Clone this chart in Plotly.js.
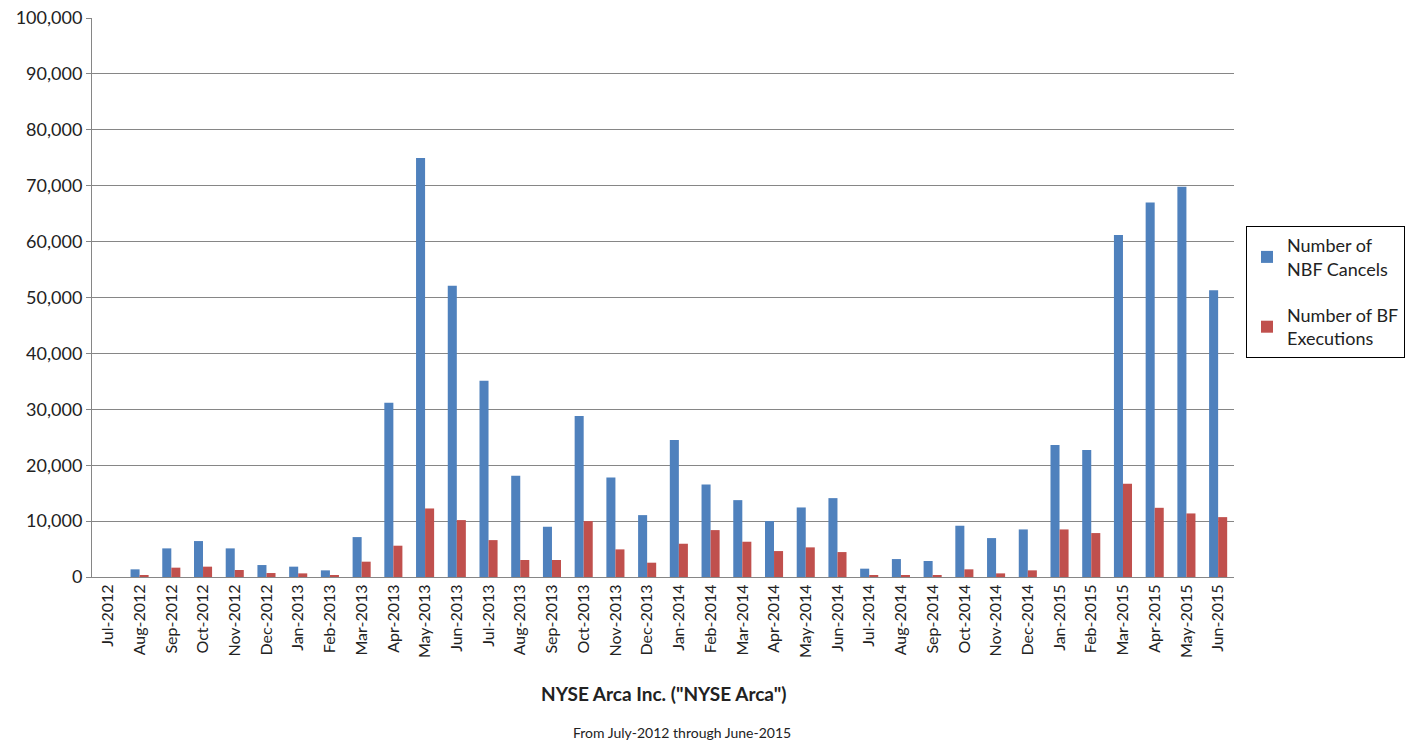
<!DOCTYPE html>
<html>
<head>
<meta charset="utf-8">
<script src="https://cdn.plot.ly/plotly-3.0.1.min.js"></script>
<style>html,body{margin:0;padding:0;background:#fff;}#chart{width:1414px;height:742px;}</style>
</head>
<body>
<div id="chart"></div>
<script>
const months = ["Jul-2012","Aug-2012","Sep-2012","Oct-2012","Nov-2012","Dec-2012","Jan-2013","Feb-2013","Mar-2013","Apr-2013","May-2013","Jun-2013","Jul-2013","Aug-2013","Sep-2013","Oct-2013","Nov-2013","Dec-2013","Jan-2014","Feb-2014","Mar-2014","Apr-2014","May-2014","Jun-2014","Jul-2014","Aug-2014","Sep-2014","Oct-2014","Nov-2014","Dec-2014","Jan-2015","Feb-2015","Mar-2015","Apr-2015","May-2015","Jun-2015"];
const nbfCancels = [0,1370,5120,6430,5120,2140,1850,1190,7140,31150,74950,52100,35100,18100,8990,28800,17800,11070,24500,16550,13750,10000,12440,14110,1490,3210,2860,9170,6960,8510,23600,22700,61200,67000,69800,51300];
const bfExecutions = [0,300,1670,1850,1250,710,650,360,2740,5600,12260,10180,6600,3040,3040,10000,4940,2560,5950,8390,6310,4640,5300,4460,180,300,300,1370,650,1190,8510,7860,16670,12380,11370,10710];
const seriesNames = ["Number of<br>NBF Cancels","Number of BF<br>Executions"];
const xTitle = 'NYSE Arca Inc. ("NYSE Arca")';
const subTitle = "From July-2012 through June-2015";

const font = "Lato, 'Open Sans', sans-serif";
const data = [
  {type:"bar", x:months, y:nbfCancels, name:seriesNames[0], legendgroup:"a", marker:{color:"#4F81BD"}},
  {type:"bar", x:months, y:bfExecutions, name:seriesNames[1], legendgroup:"b", marker:{color:"#C0504D"}}
];
const layout = {
  width:1414, height:742,
  margin:{l:92, r:180, t:18, b:165, autoexpand:false},
  paper_bgcolor:"#fff", plot_bgcolor:"#fff",
  font:{family:font, size:17, color:"#222"},
  barmode:"group", bargap:0.43, bargroupgap:0,
  showlegend:true,
  legend:{x:(1246-92)/1142, xanchor:"left", y:(577-226)/559, yanchor:"top", bordercolor:"#000", borderwidth:1,
          font:{family:font, size:18, color:"#222"}, traceorder:"grouped", tracegroupgap:20, itemwidth:30},
  xaxis:{type:"category", tickangle:-90, showline:true, linecolor:"#868686", linewidth:1,
         ticks:"", tickfont:{family:font, size:16, color:"#222"}, showgrid:false},
  yaxis:{range:[0,100000], dtick:10000, tickformat:",d", showgrid:true, gridcolor:"#868686", gridwidth:1,
         showline:true, linecolor:"#868686", zeroline:true, zerolinecolor:"#868686",
         ticks:"outside", ticklen:5, tickcolor:"#868686", tickfont:{family:font, size:18, color:"#222"}},
  annotations:[
    {text:"<b>"+xTitle+"</b>", xref:"paper", yref:"paper", x:0.5, y:(577-693)/559, xanchor:"center", yanchor:"middle",
     showarrow:false, font:{family:font, size:19, color:"#222"}},
    {text:subTitle, xref:"paper", yref:"paper", x:(682-92)/1142, y:(577-732)/559, xanchor:"center", yanchor:"middle",
     showarrow:false, font:{family:font, size:14, color:"#222"}}
  ]
};
Plotly.newPlot("chart", data, layout, {displayModeBar:false});
</script>
</body>
</html>
